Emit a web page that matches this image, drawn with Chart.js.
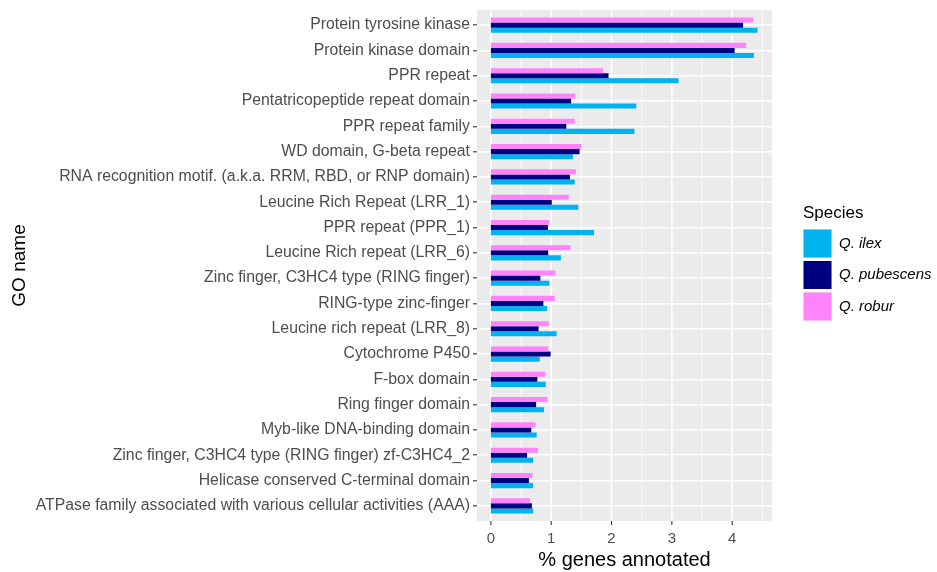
<!DOCTYPE html>
<html>
<head>
<meta charset="utf-8">
<script src="https://cdn.jsdelivr.net/npm/chart.js@4.4.1/dist/chart.umd.min.js"></script>
<style>
  body { margin: 0; background: #fff; }
  #wrap { width: 937px; height: 572px; }
</style>
</head>
<body>
<div id="wrap"><canvas id="chart" width="937" height="572"></canvas></div>
<script>
// GO terms, top to bottom
const categories = [
    "Protein tyrosine kinase",
    "Protein kinase domain",
    "PPR repeat",
    "Pentatricopeptide repeat domain",
    "PPR repeat family",
    "WD domain, G-beta repeat",
    "RNA recognition motif. (a.k.a. RRM, RBD, or RNP domain)",
    "Leucine Rich Repeat (LRR_1)",
    "PPR repeat (PPR_1)",
    "Leucine Rich repeat (LRR_6)",
    "Zinc finger, C3HC4 type (RING finger)",
    "RING-type zinc-finger",
    "Leucine rich repeat (LRR_8)",
    "Cytochrome P450",
    "F-box domain",
    "Ring finger domain",
    "Myb-like DNA-binding domain",
    "Zinc finger, C3HC4 type (RING finger) zf-C3HC4_2",
    "Helicase conserved C-terminal domain",
    "ATPase family associated with various cellular activities (AAA)"
];

// % genes annotated per species
const ilex = [4.42, 4.36, 3.11, 2.41, 2.38, 1.36, 1.39, 1.45, 1.71, 1.16, 0.97, 0.93, 1.09, 0.81, 0.91, 0.88, 0.76, 0.70, 0.70, 0.70];
const pubescens = [4.18, 4.04, 1.95, 1.33, 1.25, 1.47, 1.31, 1.01, 0.945, 0.95, 0.82, 0.87, 0.79, 0.99, 0.77, 0.75, 0.67, 0.60, 0.63, 0.68];
const robur = [4.345, 4.23, 1.86, 1.40, 1.39, 1.50, 1.41, 1.29, 0.97, 1.32, 1.07, 1.06, 0.96, 0.95, 0.90, 0.94, 0.74, 0.78, 0.69, 0.65];

const speciesNames = ["Q. ilex", "Q. pubescens", "Q. robur"];
const speciesColors = ["#00B2EE", "#000080", "#FF83FA"];
const xTickLabels = [0, 1, 2, 3, 4];

Chart.defaults.font.family = "'Liberation Sans', Arial, sans-serif";

// grey ggplot panel, x grid lines and x tick marks
const panelPlugin = {
    id: 'panel',
    beforeDraw(chart) {
        const ctx = chart.ctx;
        const a = chart.chartArea;
        const xs = chart.scales.x;
        const band = (a.bottom - a.top) / categories.length;
        const top = a.top - 0.1 * band;
        const bottom = a.bottom + 0.1 * band;
        ctx.save();
        ctx.fillStyle = '#EBEBEB';
        ctx.fillRect(a.left, top, a.right - a.left, bottom - top);
        xs.ticks.forEach(t => {
            const px = xs.getPixelForValue(t.value);
            const major = xTickLabels.includes(t.value);
            ctx.strokeStyle = '#fff';
            ctx.lineWidth = major ? 1.6 : 0.8;
            ctx.beginPath();
            ctx.moveTo(px, top);
            ctx.lineTo(px, bottom);
            ctx.stroke();
            if (major) {
                ctx.strokeStyle = '#333';
                ctx.lineWidth = 1.1;
                ctx.beginPath();
                ctx.moveTo(px, bottom);
                ctx.lineTo(px, bottom + 4);
                ctx.stroke();
            }
        });
        ctx.restore();
    }
};

// legend on the right, ggplot style
const legendPlugin = {
    id: 'speciesLegend',
    afterDraw(chart) {
        const ctx = chart.ctx;
        const x0 = 803;
        ctx.save();
        ctx.textBaseline = 'middle';
        ctx.textAlign = 'left';
        ctx.fillStyle = '#000';
        ctx.font = "17px 'Liberation Sans', Arial, sans-serif";
        ctx.fillText("Species", x0, 213);
        speciesNames.forEach((name, i) => {
            const y = 229 + i * 31.5;
            ctx.fillStyle = '#F2F2F2';
            ctx.fillRect(x0, y, 29, 29);
            ctx.fillStyle = speciesColors[i];
            ctx.fillRect(x0 + 0.5, y + 0.5, 28, 28);
            ctx.fillStyle = '#000';
            ctx.font = "italic 15px 'Liberation Sans', Arial, sans-serif";
            ctx.fillText(name, 839, y + 14.5);
        });
        ctx.restore();
    }
};

const ctx = document.getElementById("chart").getContext("2d");
new Chart(ctx, {
    type: "bar",
    data: {
        labels: categories,
        datasets: [
            { label: speciesNames[2], data: robur, backgroundColor: speciesColors[2] },
            { label: speciesNames[1], data: pubescens, backgroundColor: speciesColors[1] },
            { label: speciesNames[0], data: ilex, backgroundColor: speciesColors[0] }
        ]
    },
    options: {
        indexAxis: 'y',
        responsive: false,
        animation: false,
        devicePixelRatio: 1,
        categoryPercentage: 0.6,
        barPercentage: 1.0,
        layout: { padding: { left: 0, right: 165, top: 7.9, bottom: 0 } },
        plugins: {
            legend: { display: false },
            tooltip: { enabled: false }
        },
        scales: {
            x: {
                type: 'linear',
                min: -0.23,
                max: 4.66,
                border: { display: false },
                grid: { display: false, drawTicks: false },
                ticks: {
                    stepSize: 0.5,
                    includeBounds: false,
                    autoSkip: false,
                    maxRotation: 0,
                    padding: 11,
                    color: '#4D4D4D',
                    font: { size: 15 },
                    callback: v => xTickLabels.includes(v) ? String(v) : ''
                },
                title: {
                    display: true,
                    text: '% genes annotated',
                    color: '#000',
                    font: { size: 20 },
                    padding: { top: 0, bottom: 0 }
                },
                afterFit: s => { s.height = 53.5; }
            },
            y: {
                border: { display: false },
                grid: {
                    offset: false,
                    color: '#fff',
                    lineWidth: 1.6,
                    tickColor: '#333',
                    tickLength: 4,
                    tickWidth: 1.1
                },
                ticks: {
                    autoSkip: false,
                    padding: 3,
                    color: '#4D4D4D',
                    font: { size: 15.8 }
                },
                title: {
                    display: true,
                    text: 'GO name',
                    color: '#000',
                    font: { size: 19 },
                    padding: { top: 8, bottom: 0 }
                },
                afterFit: s => { s.width = 477; }
            }
        }
    },
    plugins: [panelPlugin, legendPlugin]
});
</script>
</body>
</html>
